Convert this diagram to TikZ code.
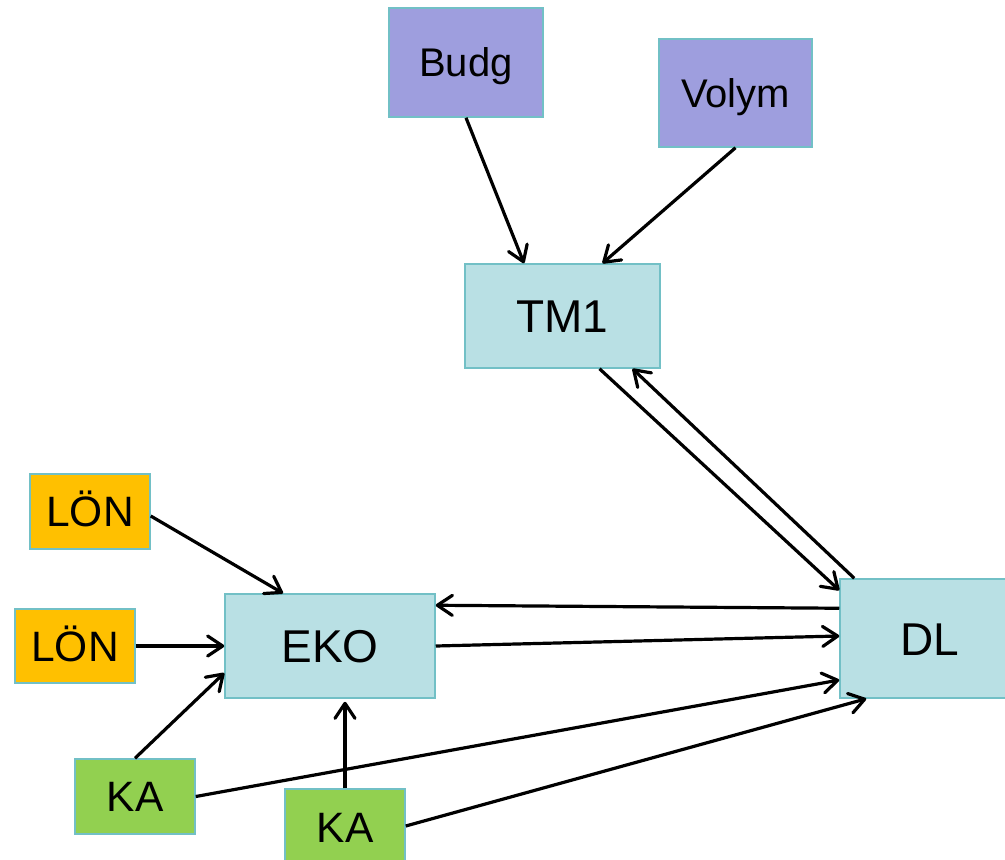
\documentclass[tikz,border=0pt]{standalone}
\usepackage{fontspec}
\setmainfont{Liberation Sans}
\usetikzlibrary{arrows.meta,calc}
\definecolor{bordc}{HTML}{72C0C6}
\definecolor{purp}{HTML}{9E9EDE}
\definecolor{teal}{HTML}{B9E0E4}
\definecolor{orng}{HTML}{FFC000}
\definecolor{grn}{HTML}{92D050}
\tikzset{
  box/.style={draw=bordc, line width=1.5pt, inner sep=0pt, text height=28.6pt, text depth=0pt, font=\fontsize{40}{48}\selectfont},
  smallbox/.style={box, text height=30pt, font=\fontsize{42.5}{50}\selectfont},
  bigbox/.style={box, text height=33pt, font=\fontsize{46}{54}\selectfont},
  conn/.style={line width=3.2pt, -{Straight Barb[length=15pt,width=20pt,round]}},
}
\begin{document}
\begin{tikzpicture}[x=1pt,y=-1pt]
\useasboundingbox (0,0) rectangle (1005,860);
\clip (0,0) rectangle (1005,860);
\node[box, fill=purp, minimum width=154pt, minimum height=109pt] (budg) at (466,62.5) {Budg};
\node[box, fill=purp, minimum width=153pt, minimum height=108pt] (volym) at (735.5,93) {Volym};
\node[bigbox, fill=teal, minimum width=195pt, minimum height=104pt] (tm1) at (562.5,316) {TM1};
\node[smallbox, fill=orng, minimum width=120pt, minimum height=75pt] (lon1) at (90,511.5) {LÖN};
\node[smallbox, fill=orng, minimum width=120pt, minimum height=74pt] (lon2) at (75,646) {LÖN};
\node[bigbox, fill=teal, minimum width=210pt, minimum height=104pt] (eko) at (330,646) {EKO};
\node[bigbox, fill=teal, minimum width=180pt, minimum height=119pt] (dl) at (930,638.5) {DL};
\node[smallbox, fill=grn, minimum width=120pt, minimum height=75pt] (ka1) at (135,796.5) {KA};
\node[smallbox, fill=grn, minimum width=120pt, minimum height=76pt] (ka2) at (345,827) {KA};

\draw[conn] (budg.south) -- ([xshift=-38.5pt]tm1.north);
\draw[conn] (volym.south) -- ([xshift=40pt]tm1.north);
\draw[conn] ([xshift=37pt]tm1.south) -- ([yshift=-12pt]dl.north west);
\draw[conn] ([xshift=15pt]dl.north west) -- ([xshift=70pt]tm1.south);
\draw[conn] ([yshift=-30pt]dl.north west) -- ([yshift=-12pt]eko.north east);
\draw[conn] (eko.east) -- ([yshift=2.5pt]dl.west);
\draw[conn] ([yshift=-4.5pt]lon1.east) -- ([xshift=-47pt]eko.north);
\draw[conn] (lon2.east) -- (eko.west);
\draw[conn] (ka1.north) -- ([yshift=-27pt]eko.west);
\draw[conn] (ka2.north) -- ([xshift=15pt,yshift=-3pt]eko.south);
\draw[conn] (ka1.east) -- ([yshift=-41.5pt]dl.west);
\draw[conn] ([yshift=1pt]ka2.east) -- ([xshift=27pt]dl.south west);
\end{tikzpicture}
\end{document}
